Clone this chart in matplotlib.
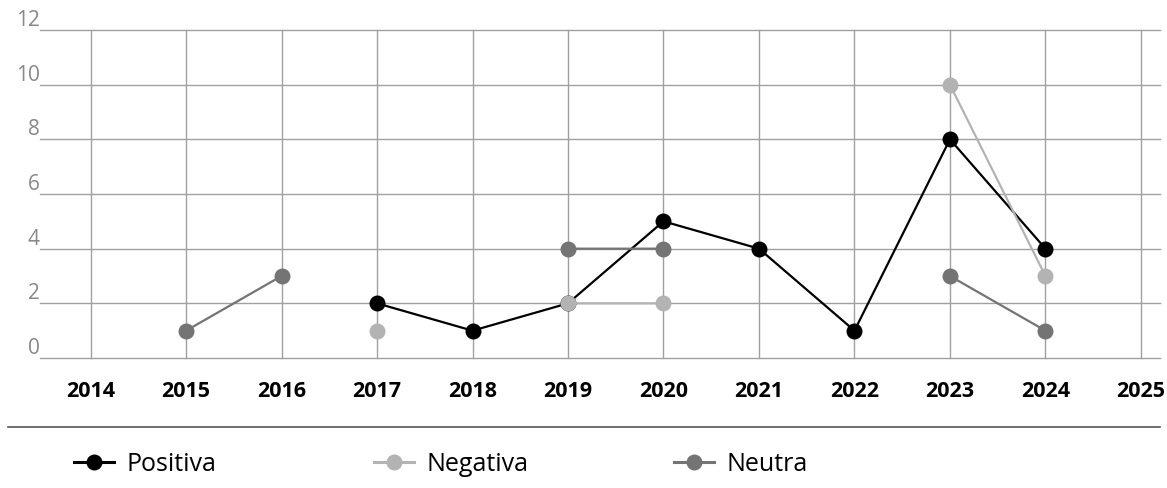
import numpy as np
import matplotlib
matplotlib.use("Agg")
import matplotlib.pyplot as plt
from matplotlib.lines import Line2D

plt.rcParams['font.family'] = ['Open Sans', 'DejaVu Sans']

years = list(range(2014, 2026))

# NaN = no value that year (gaps in the lines)
positiva = [np.nan, np.nan, np.nan, 2, 1, 2, 5, 4, 1, 8, 4, np.nan]
negativa = [np.nan, np.nan, np.nan, 1, np.nan, 2, 2, np.nan, np.nan, 10, 3, np.nan]
neutra = [np.nan, 1, 3, np.nan, np.nan, 4, 4, np.nan, np.nan, 3, 1, np.nan]

series = [("Positiva", positiva, "#000000"),
          ("Negativa", negativa, "#b3b3b3"),
          ("Neutra", neutra, "#747474")]

yticks = [0, 2, 4, 6, 8, 10, 12]

W, H = 1167, 489
fig = plt.figure(figsize=(W / 100, H / 100), dpi=100)
ax = fig.add_axes([40 / W, 1 - 359 / H, (1160 - 40) / W, (359 - 31) / H])

for name, vals, col in series:
    ax.plot(years, vals, color=col, lw=1.6, marker='o', markersize=11.5,
            markeredgewidth=0, label=name, zorder=3)

ax.set_xlim(2013.47, 2025.2)
ax.set_ylim(0, 12)
ax.set_xticks(years)
ax.set_xticklabels([str(y) for y in years], fontsize=15.5, fontweight='bold')
ax.set_yticks(yticks)
ax.set_yticklabels([])
ax.tick_params(axis='both', length=0)
ax.tick_params(axis='x', pad=16)
ax.grid(True, color='#a0a0a0', lw=1)
for gl in ax.get_xgridlines() + ax.get_ygridlines():
    gl.set_clip_on(False)
for s in ax.spines.values():
    s.set_visible(False)

# y labels sit above-left of each gridline start
for v in yticks:
    ax.text(2013.47, v, str(v), ha='right', va='bottom', fontsize=15,
            color='#888888')

# separator line above legend
fig.add_artist(Line2D([8 / W, 1160 / W], [1 - 428 / H] * 2,
                      color='#555555', lw=1.2))

# legend, one entry per anchor
for i, (name, vals, col) in enumerate(series):
    h = Line2D([0], [0], color=col, lw=2.2, marker='o', markersize=11.5,
               markeredgewidth=0)
    fig.legend([h], [name], loc='center left',
               bbox_to_anchor=((74 + 300 * i) / W, 1 - 465 / H),
               frameon=False, fontsize=18, handlelength=1.6,
               handletextpad=0.5, borderaxespad=0, borderpad=0)

fig.savefig("out.png", dpi=100)
